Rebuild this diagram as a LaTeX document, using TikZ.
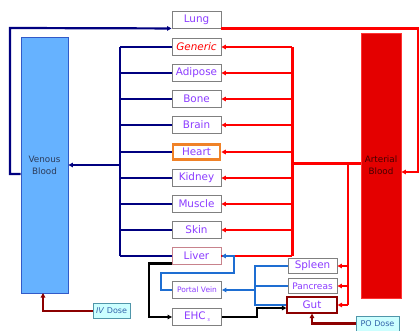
\documentclass[tikz,border=0pt]{standalone}
\usepackage{fontspec}
\setmainfont{DejaVu Sans}
\usetikzlibrary{arrows.meta}
\definecolor{navyb}{RGB}{0,0,128}
\definecolor{redl}{RGB}{255,0,0}
\definecolor{portb}{RGB}{30,110,210}
\definecolor{dred}{RGB}{140,0,0}
\definecolor{boxgray}{RGB}{128,128,128}
\definecolor{orgtxt}{RGB}{140,60,255}
\definecolor{venfill}{RGB}{102,178,255}
\definecolor{venedge}{RGB}{50,90,200}
\definecolor{artfill}{RGB}{228,0,0}
\definecolor{dosefill}{RGB}{204,255,255}
\definecolor{doseedge}{RGB}{80,150,170}
\definecolor{dosetxt}{RGB}{50,100,170}
\definecolor{hearto}{RGB}{240,130,40}
\definecolor{liverb}{RGB}{200,130,140}
\begin{document}
\begin{tikzpicture}[x=1pt,y=-1pt,
  >={Triangle[length=4.5pt,width=4.5pt]},
  organ/.style={draw=boxgray, line width=0.9pt, fill=white, minimum width=49pt,
    minimum height=17pt, inner sep=0pt, font=\fontsize{10.4}{12}\selectfont, text=orgtxt},
  small/.style={organ, minimum height=15.5pt},
  dose/.style={draw=doseedge, line width=0.8pt, fill=dosefill, inner sep=0pt,
    minimum height=15pt, font=\fontsize{8}{10}\selectfont, text=dosetxt},
  ven/.style={navyb, line width=2.2pt},
  art/.style={redl, line width=2.2pt},
  artbus/.style={redl, line width=3pt},
  port/.style={portb, line width=2.2pt},
  blk/.style={black, line width=2.2pt},
  dr/.style={dred, line width=2.2pt}]
\useasboundingbox (0,0) rectangle (420,331);

% blood pools
\node[draw=venedge, line width=0.9pt, fill=venfill, minimum width=47pt, minimum height=256pt,
  inner sep=0pt, align=center, font=\fontsize{8.8}{12}\selectfont, text={rgb,255:red,45;green,60;blue,90}]
  (Ven) at (44.5,165) {Venous\\Blood};
\node[draw=redl!80, line width=0.9pt, fill=artfill, minimum width=40pt, minimum height=265pt,
  inner sep=0pt, align=center, font=\fontsize{8.8}{12}\selectfont, text={rgb,255:red,70;green,0;blue,0}]
  (Art) at (381,165.5) {Arterial\\Blood};

% organs
\node[organ] (Lung) at (196.5,20) {Lung};
\node[organ, text=redl, font=\fontsize{10.4}{12}\selectfont\itshape] (Gen) at (196.5,47) {Generic};
\node[organ] (Adi) at (196.5,73) {Adipose};
\node[organ] (Bone) at (196.5,99) {Bone};
\node[organ] (Brain) at (196.5,125) {Brain};
\node[organ, draw=hearto, line width=2.6pt, minimum width=47pt, minimum height=15pt] (Heart) at (196.5,152) {Heart};
\node[organ] (Kid) at (196.5,178) {Kidney};
\node[organ] (Mus) at (196.5,204) {Muscle};
\node[organ] (Skin) at (196.5,230) {Skin};
\node[organ, draw=liverb] (Liver) at (196.5,256) {Liver};
\node[organ, font=\fontsize{7.5}{9}\selectfont] (PV) at (197,290) {Portal Vein};
\node[organ] (EHC) at (197,317) {EHC\,\raisebox{-2pt}{\fontsize{4}{5}\selectfont 3}};
\node[small] (Spl) at (312.5,266) {Spleen};
\node[small, font=\fontsize{9}{11}\selectfont] (Pan) at (312.5,286) {Pancreas};
\node[small, draw=dred, line width=1.1pt, minimum width=50pt, minimum height=16pt] (Gut) at (312,305) {Gut};
\node[dose, minimum width=43pt] (PO) at (377.5,323.5) {PO Dose};
\node[dose, minimum width=37pt] (IV) at (111.5,311) {\textit{IV} Dose};

% lung loop
\coordinate (vl) at (10,28);
\coordinate (ar) at (418,172);
\draw[ven,->] ([yshift=-9pt]Ven.west) -| (vl) -- ([yshift=0.5pt]Lung.south west);
\draw[art,->] ([yshift=0.5pt]Lung.south east) -| (ar) -- (Art.east |- ar);

% venous collector
\coordinate (vt) at (120,47);
\coordinate (vb) at (120,256);
\draw[ven] (vt) -- (vb);
\foreach \o in {Gen,Adi,Bone,Brain,Heart,Kid,Mus,Skin,Liver}
  \draw[ven] (\o.west) -- (\o.west -| vt);
\draw[ven,->] (vt |- Ven.east) -- (Ven.east);

% arterial distributor
\coordinate (at) at (292,47);
\coordinate (ab) at (292,256);
\coordinate (am) at (292,164);
\draw[artbus] (at) -- (ab);
\draw[artbus] (Art.west |- am) -- (am);
\foreach \o in {Gen,Adi,Bone,Brain,Heart,Kid,Mus,Skin}
  \draw[art,->] (\o.east -| at) -- (\o.east);
\draw[art] (Liver.east -| at) -- (Liver.east);
\coordinate (gt) at (348,164);
\coordinate (gb) at (348,305);
\draw[art] (gt) -- (gb);
\foreach \o in {Spl,Pan,Gut}
  \draw[art,->] (\o.east -| gt) -- (\o.east);

% portal system
\coordinate (p1) at (161,273);
\coordinate (p2) at (234,273);
\draw[port,->] (PV.west) -| (p1) -- (p2) |- (Liver.east);
\coordinate (sb) at (255,266);
\coordinate (sbb) at (255,305);
\draw[port] (Spl.west) -- (sb) -- (sbb) -- (Gut.west |- sbb);
\draw[port] (Pan.west) -- (Pan.west -| sb);
\draw[port,->] (PV.east -| sb) -- (PV.east);

% enterohepatic circulation
\coordinate (e1) at (149,317);
\coordinate (e2) at (257,308);
\draw[blk,->] ([yshift=1.5pt]Liver.south west) -| (e1) -- (EHC.west);
\draw[blk,->] (EHC.east) -| (e2) -- (Gut.west |- e2);

% doses
\draw[dr,->] (PO.west) -| (Gut.south);
\coordinate (ivx) at (43,293);
\draw[dr,->] (IV.west) -| (ivx);
\end{tikzpicture}
\end{document}
